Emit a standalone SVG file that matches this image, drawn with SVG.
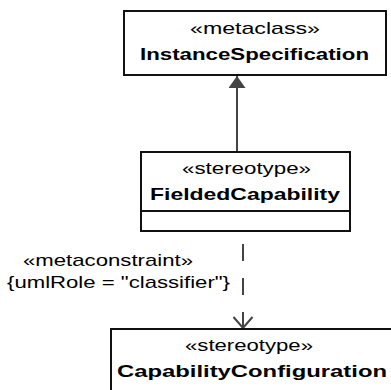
<svg xmlns="http://www.w3.org/2000/svg" width="391" height="390" viewBox="0 0 391 390">
<style>
.box{fill:#fff;stroke:#111;stroke-width:2}
.st{font-family:"Liberation Sans",Arial,sans-serif;font-size:17px;fill:#000;text-anchor:middle}
.nm{font-family:"Liberation Sans",Arial,sans-serif;font-size:17px;font-weight:bold;fill:#000;text-anchor:middle}
.lbl{font-family:"Liberation Sans",Arial,sans-serif;font-size:17px;fill:#000;text-anchor:middle}
.ln{stroke:#444;stroke-width:2;fill:none}
</style>
<defs>
<marker id="tri" markerWidth="13" markerHeight="18" refX="12" refY="8.5" orient="auto" markerUnits="userSpaceOnUse">
<path d="M0,0 L12,8.5 L0,17 Z" fill="#444"/>
</marker>
<marker id="open" markerWidth="22" markerHeight="24" refX="12" refY="10.5" orient="auto" markerUnits="userSpaceOnUse">
<path d="M1,1 L12,10.5 L1,20" fill="none" stroke="#444" stroke-width="2"/>
</marker>
</defs>
<g id="connectors">
<line class="ln" x1="237" y1="152" x2="237" y2="76" marker-end="url(#tri)"/>
<line class="ln" x1="243" y1="244" x2="243" y2="312" stroke-dasharray="17 17"/>
<line class="ln" x1="243" y1="312" x2="243" y2="328" marker-end="url(#open)"/>
<text class="lbl" x="108" y="265.5" textLength="170" lengthAdjust="spacingAndGlyphs">«metaconstraint»</text>
<text class="lbl" x="118.5" y="288" textLength="223" lengthAdjust="spacingAndGlyphs">{umlRole = "classifier"}</text>
</g>
<g id="InstanceSpecification">
<rect class="box" x="124" y="11" width="262" height="64"/>
<text class="st" x="255" y="33.5" textLength="130" lengthAdjust="spacingAndGlyphs">«metaclass»</text>
<text class="nm" x="254.5" y="59.5" textLength="229" lengthAdjust="spacingAndGlyphs">InstanceSpecification</text>
</g>
<g id="FieldedCapability">
<rect class="box" x="141" y="152" width="209" height="79"/>
<line class="box" x1="141" y1="211" x2="350" y2="211"/>
<text class="st" x="246.5" y="173.5" textLength="129" lengthAdjust="spacingAndGlyphs">«stereotype»</text>
<text class="nm" x="245" y="199.5" textLength="190" lengthAdjust="spacingAndGlyphs">FieldedCapability</text>
</g>
<g id="CapabilityConfiguration">
<rect class="box" x="111" y="329" width="300" height="80"/>
<text class="st" x="249" y="351" textLength="128" lengthAdjust="spacingAndGlyphs">«stereotype»</text>
<text class="nm" x="252" y="377" textLength="270" lengthAdjust="spacingAndGlyphs">CapabilityConfiguration</text>
</g>
</svg>
